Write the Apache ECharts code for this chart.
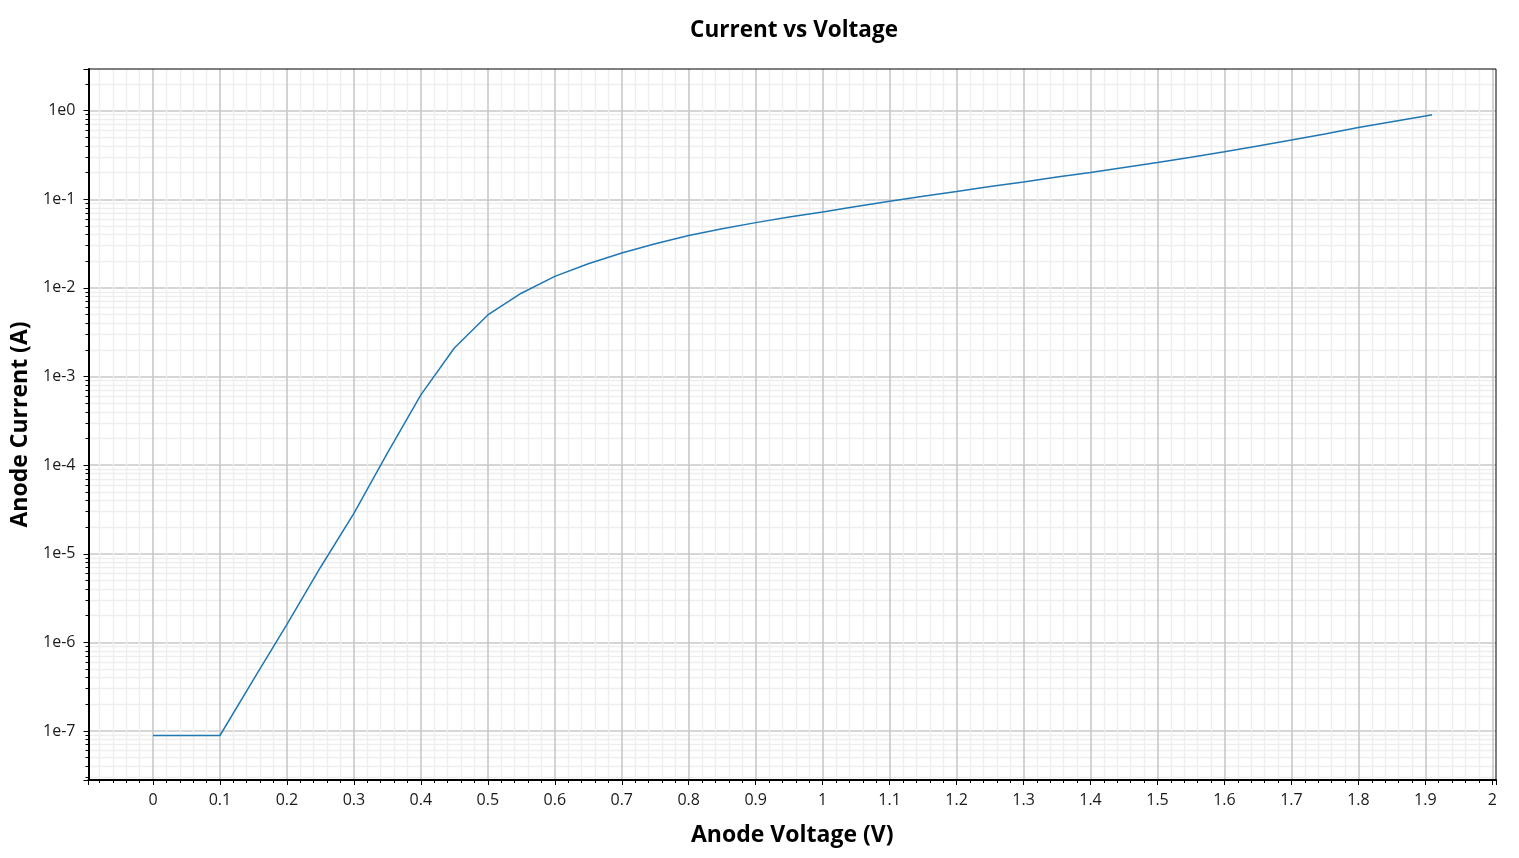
<!DOCTYPE html>
<html>
<head>
<meta charset="utf-8">
<script src="https://cdn.jsdelivr.net/npm/echarts@6/dist/echarts.min.js"></script>
<style>
html,body{margin:0;padding:0;background:#fff;}
#chart{width:1519px;height:858px;}
</style>
</head>
<body>
<div id="chart"></div>
<script>
// Anode voltage (V)
const voltage = [0, 0.05, 0.1, 0.15, 0.2, 0.25, 0.3, 0.35, 0.4, 0.45, 0.5, 0.55, 0.6, 0.65, 0.7, 0.75, 0.8, 0.85, 0.9, 0.95, 1.0, 1.05, 1.1, 1.15, 1.2, 1.25, 1.3, 1.35, 1.4, 1.45, 1.5, 1.55, 1.6, 1.65, 1.7, 1.75, 1.8, 1.85, 1.9, 1.91];
// Anode current (A)
const current = [8.9e-8, 8.9e-8, 8.9e-8, 3.8e-7, 1.6e-6, 7.0e-6, 2.85e-5, 1.37e-4, 6.2e-4, 2.1e-3, 4.95e-3, 8.7e-3, 1.35e-2, 1.87e-2, 2.48e-2, 3.15e-2, 3.9e-2, 4.65e-2, 5.45e-2, 6.3e-2, 7.2e-2, 8.3e-2, 9.5e-2, 0.108, 0.122, 0.139, 0.157, 0.178, 0.200, 0.228, 0.260, 0.298, 0.343, 0.400, 0.465, 0.545, 0.645, 0.75, 0.87, 0.90];

const titleText = 'Current vs Voltage';
const xName = 'Anode Voltage (V)';
const yName = 'Anode Current (A)';

const FONT = "'Open Sans', 'Noto Sans', sans-serif";
const chart = echarts.init(document.getElementById('chart'), null, {renderer: 'canvas'});

const seriesData = voltage.map((v, i) => [v, current[i]]);

const MAJOR = {color: '#c8c8c8', width: 1.6};
const MINOR = {color: '#eeeeee', width: 1.4};

const option = {
  animation: false,
  backgroundColor: '#fff',
  textStyle: {fontFamily: FONT},
  title: {
    text: titleText,
    left: 789,
    textAlign: 'center',
    top: 14,
    textStyle: {fontFamily: FONT, fontSize: 22.5, fontWeight: 'bold', color: '#000'}
  },
  grid: {
    left: 88.5, right: 23, top: 69, bottom: 78,
    show: true, borderColor: '#000', borderWidth: 1, backgroundColor: 'transparent', z: 3
  },
  xAxis: {
    type: 'value',
    min: -0.0963,
    max: 2.0055,
    splitNumber: 21,
    minInterval: 0.1,
    maxInterval: 0.1,
    axisLine: {show: true, onZero: false, lineStyle: {color: '#000', width: 2}},
    axisTick: {show: true, length: 5, lineStyle: {color: '#000', width: 1}},
    minorTick: {show: true, splitNumber: 5, length: 3, lineStyle: {color: '#000', width: 1}},
    splitLine: {show: true, showMinLine: false, showMaxLine: false, lineStyle: MAJOR},
    minorSplitLine: {show: true, lineStyle: MINOR},
    axisLabel: {showMinLabel: false, showMaxLabel: false, color: '#1a1a1a', fontSize: 16, margin: 12, fontFamily: FONT},
    name: xName,
    nameLocation: 'middle',
    nameGap: 44,
    nameTextStyle: {fontFamily: FONT, fontSize: 23, fontWeight: 'bold', color: '#000'}
  },
  yAxis: {
    type: 'log',
    logBase: 10,
    min: 2.8e-8,
    max: 2.95,
    splitNumber: 5,
    axisLine: {show: true, onZero: false, lineStyle: {color: '#000', width: 2}},
    axisTick: {show: true, length: 5, lineStyle: {color: '#000', width: 1}},
    minorTick: {show: true, splitNumber: 9, length: 3, lineStyle: {color: '#000', width: 1}},
    splitLine: {show: true, showMinLine: false, showMaxLine: false, lineStyle: MAJOR},
    minorSplitLine: {show: true, lineStyle: MINOR},
    axisLabel: {
      showMinLabel: false, showMaxLabel: false, color: '#1a1a1a', fontSize: 16, margin: 13, fontFamily: FONT,
      formatter: v => '1e' + Math.round(Math.log10(v))
    },
    name: yName,
    nameLocation: 'middle',
    nameGap: 56,
    nameTextStyle: {fontFamily: FONT, fontSize: 23, fontWeight: 'bold', color: '#000'}
  },
  series: [{
    type: 'line',
    data: seriesData,
    showSymbol: false,
    symbol: 'none',
    lineStyle: {color: '#1f77b4', width: 1.5},
    itemStyle: {color: '#1f77b4'},
    z: 5
  }]
};
chart.setOption(option);
</script>
</body>
</html>
